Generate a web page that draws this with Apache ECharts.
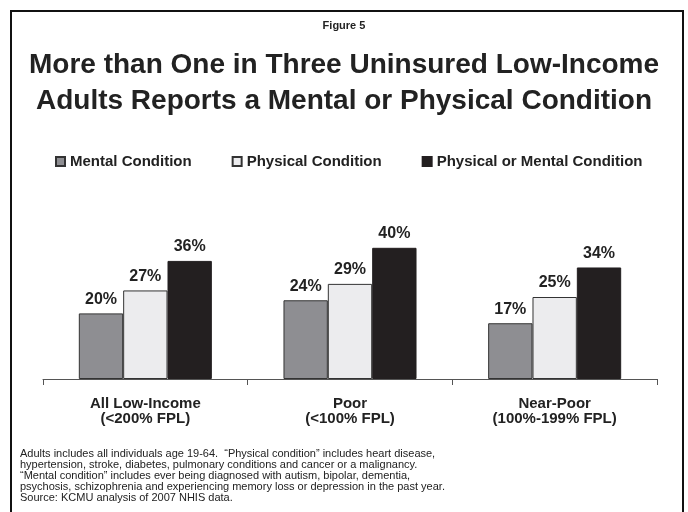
<!DOCTYPE html>
<html>
<head>
<meta charset="utf-8">
<script src="https://cdn.jsdelivr.net/npm/echarts@6/dist/echarts.min.js"></script>
<style>
  html, body { margin: 0; padding: 0; background: #fff; }
  #chart { width: 688px; height: 512px; }
</style>
</head>
<body>
<div id="chart"></div>
<script>
// categories and values (percent)
const categories = ['All Low-Income\n(<200% FPL)', 'Poor\n(<100% FPL)', 'Near-Poor\n(100%-199% FPL)'];
const mental = [20, 24, 17];
const physical = [27, 29, 25];
const either = [36, 40, 34];

const footnote = [
  'Adults includes all individuals age 19-64.  \u201cPhysical condition\u201d includes heart disease,',
  'hypertension, stroke, diabetes, pulmonary conditions and cancer or a malignancy.',
  '\u201cMental condition\u201d includes ever being diagnosed with autism, bipolar, dementia,',
  'psychosis, schizophrenia and experiencing memory loss or depression in the past year.',
  'Source: KCMU analysis of 2007 NHIS data.'
].join('\n');

const font = '"Liberation Sans", Arial, sans-serif';

let chart = echarts.init(document.getElementById('chart'));

// label above bar
function barLabel() {
  return {
    show: true,
    position: 'top',
    distance: 6,
    formatter: '{c}%',
    fontFamily: font,
    fontWeight: 'bold',
    fontSize: 16,
    color: '#222'
  };
}

chart.setOption({
  animation: false,
  backgroundColor: '#fff',
  textStyle: { fontFamily: font },
  title: [
    {
      text: 'Figure 5',
      left: 'center',
      top: 15,
      textStyle: { fontSize: 11, fontWeight: 'bold', color: '#222', fontFamily: font }
    },
    {
      text: 'More than One in Three Uninsured Low-Income\nAdults Reports a Mental or Physical Condition',
      left: 'center',
      top: 42,
      textStyle: { fontSize: 28, fontWeight: 'bold', color: '#222', lineHeight: 36, fontFamily: font }
    },
    {
      text: footnote,
      left: 15,
      top: 443,
      textStyle: { fontSize: 11, fontWeight: 'normal', color: '#222', lineHeight: 11.2, fontFamily: font }
    }
  ],
  legend: {
    top: 149,
    left: 50,
    icon: 'rect',
    itemWidth: 9,
    itemHeight: 9,
    itemGap: 40,
    textStyle: { fontSize: 15, fontWeight: 'bold', color: '#222', fontFamily: font }
  },
  grid: {
    left: 43,
    right: 31,
    top: 215,
    bottom: 133
  },
  xAxis: {
    type: 'category',
    data: categories,
    axisLine: { lineStyle: { color: '#555', width: 1 } },
    axisTick: { show: true, length: 6, lineStyle: { color: '#555' } },
    axisLabel: {
      margin: 17,
      fontSize: 15,
      fontWeight: 'bold',
      color: '#222',
      lineHeight: 15,
      fontFamily: font
    }
  },
  yAxis: {
    type: 'value',
    min: 0,
    max: 50,
    show: false,
    splitLine: { show: false }
  },
  series: [
    {
      name: 'Mental Condition',
      type: 'bar',
      data: mental,
      barGap: '0%',
      barCategoryGap: '35%',
      itemStyle: { color: '#8e8e92', borderColor: '#333', borderWidth: 1 },
      label: barLabel()
    },
    {
      name: 'Physical Condition',
      type: 'bar',
      data: physical,
      itemStyle: { color: '#ececee', borderColor: '#333', borderWidth: 1 },
      label: barLabel()
    },
    {
      name: 'Physical or Mental Condition',
      type: 'bar',
      data: either,
      itemStyle: { color: '#231f20', borderColor: '#231f20', borderWidth: 1 },
      label: barLabel()
    }
  ],
  graphic: [
    {
      type: 'polyline',
      silent: true,
      shape: { points: [[11, 512], [11, 11], [683, 11], [683, 512]] },
      style: { stroke: '#111', lineWidth: 2, fill: null }
    }
  ]
});
</script>
</body>
</html>
